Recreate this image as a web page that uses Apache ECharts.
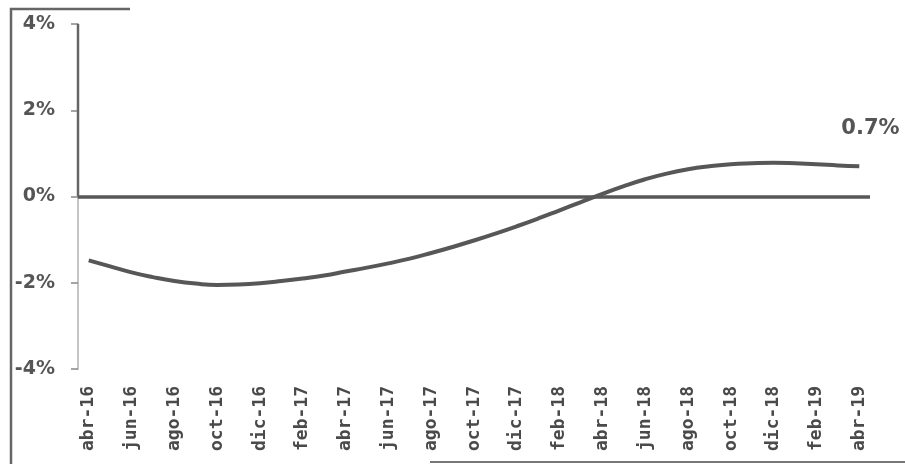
<!DOCTYPE html>
<html>
<head>
<meta charset="utf-8">
<script src="https://cdn.jsdelivr.net/npm/echarts@6/dist/echarts.min.js"></script>
<style>
  html, body { margin: 0; padding: 0; background: #fff; }
  #chart { width: 905px; height: 464px; }
</style>
</head>
<body>
<div id="chart"></div>
<script>
// Monthly periods, April 2016 to April 2019
const months = [
  'abr-16','may-16','jun-16','jul-16','ago-16','sep-16','oct-16','nov-16','dic-16',
  'ene-17','feb-17','mar-17','abr-17','may-17','jun-17','jul-17','ago-17','sep-17',
  'oct-17','nov-17','dic-17','ene-18','feb-18','mar-18','abr-18','may-18','jun-18',
  'jul-18','ago-18','sep-18','oct-18','nov-18','dic-18','ene-19','feb-19','mar-19','abr-19'
];

// Gap values (%)
const gap = [
  -1.48, -1.62, -1.76, -1.87, -1.96, -2.02, -2.05, -2.04, -2.01,
  -1.96, -1.90, -1.83, -1.74, -1.65, -1.55, -1.44, -1.31, -1.17,
  -1.02, -0.86, -0.69, -0.51, -0.32, -0.13, 0.06, 0.24, 0.40,
  0.53, 0.63, 0.70, 0.75, 0.77, 0.78, 0.77, 0.75, 0.72, 0.7
];

// Value axis ticks (%)
const yTicks = [-4, -2, 0, 2, 4];

const ink = '#555555';
const chart = echarts.init(document.getElementById('chart'), null, { renderer: 'canvas' });

chart.setOption({
  animation: false,
  backgroundColor: '#ffffff',
  grid: { left: 78, right: 35, top: 24, bottom: 95 },
  xAxis: {
    type: 'category',
    data: months,
    boundaryGap: true,
    axisLine: { show: false },
    axisTick: { show: false },
    axisLabel: {
      interval: 1,
      rotate: 90,
      margin: 17,
      color: '#4a4a4a',
      fontFamily: 'DejaVu Sans Mono',
      fontWeight: 'bold',
      fontSize: 18
    }
  },
  yAxis: {
    type: 'value',
    min: yTicks[0],
    max: yTicks[yTicks.length - 1],
    interval: 2,
    splitLine: { show: false },
    axisLine: { show: true, lineStyle: { color: '#c4c4c4', width: 2 } },
    axisTick: { show: true, inside: false, length: 7, lineStyle: { color: '#888', width: 1.5 } },
    axisLabel: {
      margin: 23,
      color: ink,
      fontFamily: 'DejaVu Sans',
      fontWeight: 'bold',
      fontSize: 19,
      formatter: v => v + '%'
    }
  },
  series: [{
    type: 'line',
    data: gap,
    smooth: true,
    showSymbol: false,
    symbol: 'none',
    lineStyle: { color: '#575757', width: 4 },
    label: { show: false },
    endLabel: {
      show: true,
      formatter: p => p.value.toFixed(1) + '%',
      color: ink,
      fontFamily: 'DejaVu Sans',
      fontWeight: 'bold',
      fontSize: 21,
      offset: [-26, -38]
    },
    markLine: {
      silent: true,
      symbol: 'none',
      label: { show: false },
      lineStyle: { color: '#575757', width: 3.5, type: 'solid' },
      data: [{ yAxis: 0 }]
    }
  }]
});

// Darker upper half of the value axis, plus the scanned page frame
const gx = chart.convertToPixel({ xAxisIndex: 0 }, 0) - (chart.convertToPixel({ xAxisIndex: 0 }, 1) - chart.convertToPixel({ xAxisIndex: 0 }, 0)) / 2;
const yTop = chart.convertToPixel({ yAxisIndex: 0 }, yTicks[yTicks.length - 1]);
const yZero = chart.convertToPixel({ yAxisIndex: 0 }, 0);
chart.setOption({
  graphic: [
    { type: 'line', shape: { x1: gx, y1: yTop, x2: gx, y2: yZero }, style: { stroke: '#666', lineWidth: 2.5 }, z: 10 },
    { type: 'polyline', shape: { points: [[130, 9], [11, 9], [11, 464]] }, style: { stroke: '#666', lineWidth: 2.5, fill: null }, z: 10 },
    { type: 'line', shape: { x1: 430, y1: 462, x2: 905, y2: 462 }, style: { stroke: '#777', lineWidth: 2 }, z: 10 }
  ]
});
</script>
</body>
</html>
